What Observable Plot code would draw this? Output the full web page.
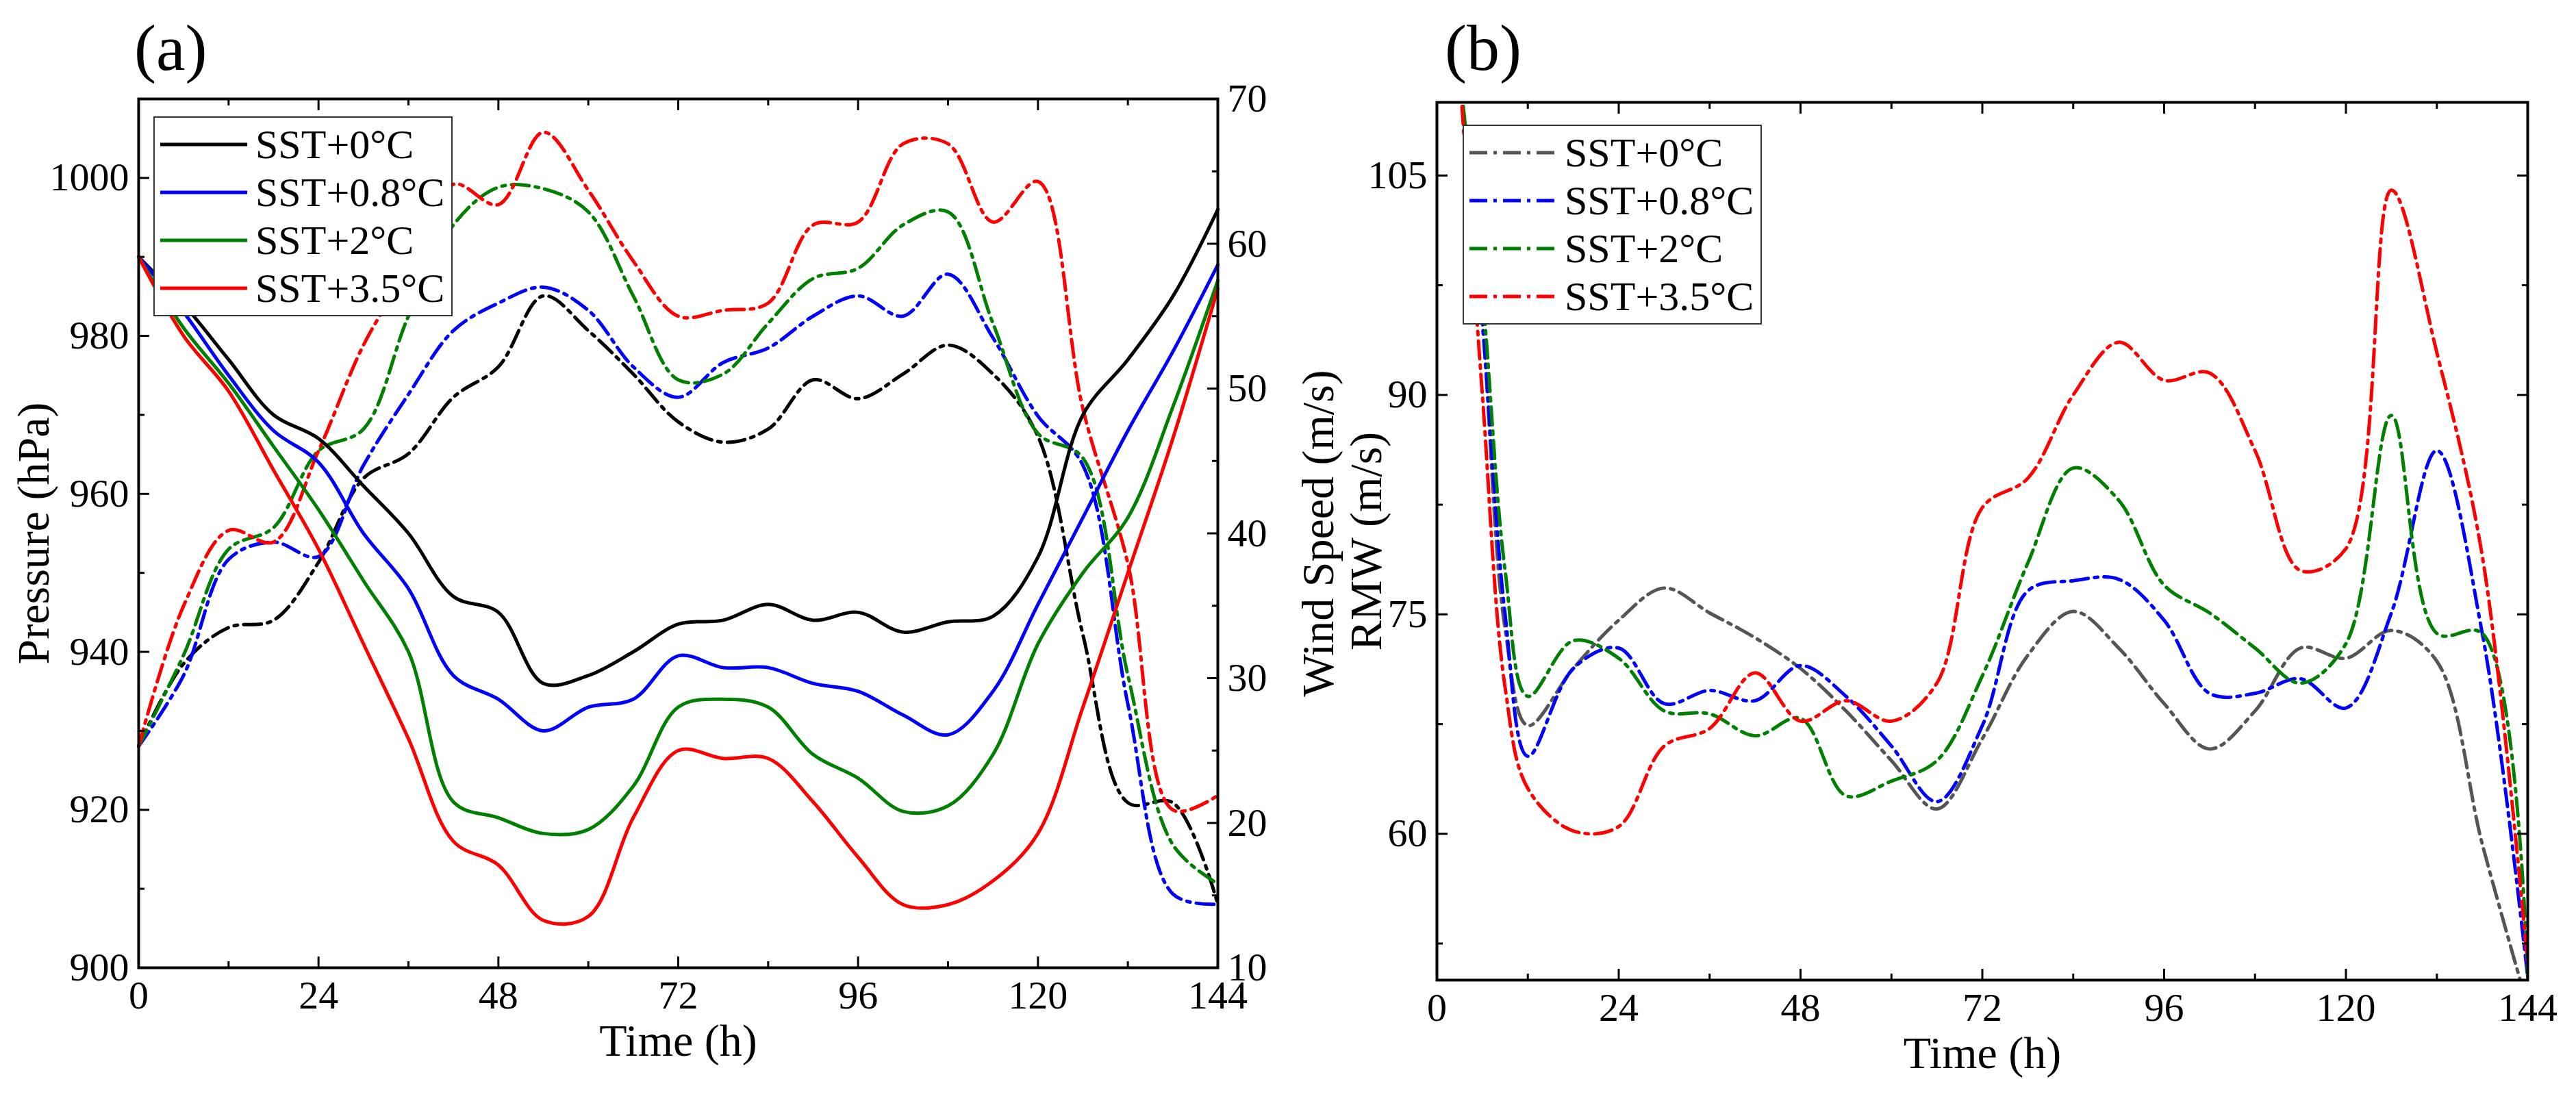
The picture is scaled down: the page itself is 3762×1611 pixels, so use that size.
<!DOCTYPE html>
<html><head><meta charset="utf-8">
<script src="https://cdn.jsdelivr.net/npm/d3@7"></script>
<script src="https://cdn.jsdelivr.net/npm/@observablehq/plot@0.6"></script>
<style>
body{margin:0;background:#fff;width:3762px;height:1611px;position:relative;overflow:hidden;font-family:"Liberation Serif",serif}
.pan{position:absolute;top:0}
.pan svg{background:transparent!important;overflow:visible}
.lab{position:absolute;font-size:96px;font-family:"Liberation Serif",serif}
.leg{position:absolute;border:2px solid #333;background:#fff;font-size:60px;padding:4px 10px 4px 8px}
.leg div{display:flex;align-items:center;height:70px}
.leg svg{margin-right:12px}
</style></head><body>
<div id="a" class="pan" style="left:0"></div>
<div id="b" class="pan" style="left:1960px"></div>
<div class="lab" style="left:196px;top:14px">(a)</div>
<div class="lab" style="left:2110px;top:14px">(b)</div>
<script>
const names = ["SST+0°C","SST+0.8°C","SST+2°C","SST+3.5°C"];
const colorsA = ["#000000","#0000ff","#008000","#ff0000"];
const colorsB = ["#555555","#0000ff","#008000","#ff0000"];
const timeA = d3.range(0,145,6);
const pressure = [
 [990,984,977,970,967,961,955,947,945,936,937,940,943.5,944,946,944,945,942.5,943.8,944.5,952,970,977,985,996],
 [990,983,975,968,964,955,948,937,934,930,933,934,939.5,938,938,936,935,932,929.5,935,946,957,968,978,989],
 [990,981,974,966,958,949,940,921,919,917,917.5,923,933,934,933,927,924,919.8,920.5,927,941,950,957,971,987],
 [990,980,973,963,953,941,929,916,913,906,906.5,919,927.5,926.5,926.5,921,914,908,908,911,917,933,950,967,986]
];
const wind = [
 [25.3,31,33.5,34,38,43.8,45.5,49.4,51.5,56.4,54,51,47.7,46.3,47.2,50.6,49.3,51,53,51,46.7,33,21.4,21.4,14.4],
 [25.3,30.2,38.2,39.4,38.4,44.7,49.6,54,55.9,57,55.4,51.5,49.4,51.8,52.8,55,56.4,55,57.9,53.5,48.1,44.7,28.2,15.1,14.4],
 [25.3,31.6,38.9,40.4,45.7,47.2,55,61.3,63.9,63.8,62.2,56.4,50.6,51,54.5,57.6,58.3,61.3,62.2,54.5,46.9,45.2,30.2,18.5,15.8],
 [25.3,35,40.2,39.4,45.7,53,58.3,64.1,62.7,67.7,63.7,58.8,55,55.4,55.9,61.3,61.5,66.9,66.9,61.5,64.3,48.6,37.9,20.9,21.9]
];
const timeB = [3,6,9,12,18,24,30,36,42,48,54,60,66,72,78,84,90,96,102,108,114,120,126,132,138,144];
const rmw = [
 [112,95,74,67.4,71.3,74.6,76.8,75.1,73.4,71.3,68.4,65,61.7,66.5,72.2,75.2,72.7,68.9,65.8,68.4,72.7,72,73.9,71.8,59.3,48.2],
 [112,95,75,65.3,71.3,72.7,68.9,69.8,69.1,71.5,69.4,66,62.2,67.4,76.6,77.3,77.4,74.6,69.6,69.6,70.6,68.6,75.1,86.2,73.7,50.2],
 [112,97,78,69.4,73.2,72,68.4,68.2,66.7,67.9,62.6,63.6,65,70.8,78.5,85,82.8,77,75.1,72.7,70.3,73,88.6,73.7,73.7,50.2],
 [112,90,70,63.1,60.2,60.5,66,67.2,71,67.7,69.1,67.7,70.3,82.3,84.3,90,93.6,91,91.5,86.2,78,79.5,104,92.9,79,51.1]
];
const xTicks = d3.range(0,145,24);
const pTicks = [900,920,940,960,980,1000];
const wTicks = [10,20,30,40,50,60,70];
const rTicks = [60,75,90,105];

const w2p = w => 900 + (w-10)*110/60;
const dash = "26,9,5,9";
const font = {fontFamily:"Liberation Serif, serif", fontSize:58};
const TF = 58, LF = 66;

function frameAxes(xs, yMajor, yMinor, opts={}) {
  const m = [];
  m.push(Plot.axisX({anchor:"bottom", ticks:xs, tickSize:-16, tickPadding:34, tickFormat:d=>String(d), label:"Time (h)", labelAnchor:"center", labelOffset:128, labelArrow:"none", fontSize:TF, strokeWidth:3}));
  m.push(Plot.axisX({anchor:"bottom", ticks:xs.slice(0,-1).map(d=>d+12), tickSize:-9, tickFormat:()=>"", label:null, strokeWidth:3}));
  m.push(Plot.axisX({anchor:"top", ticks:xs, tickSize:-16, tickFormat:()=>"", label:null, strokeWidth:3}));
  m.push(Plot.axisX({anchor:"top", ticks:xs.slice(0,-1).map(d=>d+12), tickSize:-9, tickFormat:()=>"", label:null, strokeWidth:3}));
  m.push(Plot.axisY({anchor:"left", ticks:yMajor, tickSize:-16, tickPadding:30, tickFormat:d=>String(d), label:opts.label, labelAnchor:"center", labelOffset:opts.labelOffset, labelArrow:"none", fontSize:TF, strokeWidth:3}));
  m.push(Plot.axisY({anchor:"left", ticks:yMinor, tickSize:-9, tickFormat:()=>"", label:null, strokeWidth:3}));
  return m;
}

// Panel a
const rowsA = [], rowsW = [];
names.forEach((n,i)=>timeA.forEach((t,j)=>{rowsA.push({s:n,t,v:pressure[i][j]}); rowsW.push({s:n,t,v:w2p(wind[i][j])});}));
const pMinor = [910,930,950,970,990];
const plotA = Plot.plot({
  width:1960, height:1611, marginLeft:202, marginRight:182, marginTop:144, marginBottom:198,
  style:{...font, background:"transparent"},
  x:{domain:[0,144]}, y:{domain:[900,1010]},
  color:{domain:names, range:colorsA},
  marks:[
    Plot.line(rowsW,{x:"t",y:"v",z:"s",stroke:"s",strokeWidth:5,strokeDasharray:dash,curve:"catmull-rom"}),
    Plot.line(rowsA,{x:"t",y:"v",z:"s",stroke:"s",strokeWidth:5,curve:"catmull-rom"}),
    ...frameAxes(xTicks,pTicks,pMinor,{label:"Pressure (hPa)",labelOffset:178}),
    Plot.axisY({anchor:"right", ticks:wTicks.map(w2p), tickSize:-16, tickPadding:30, tickFormat:p=>String(Math.round(10+(p-900)*60/110)), label:"Wind Speed (m/s)", labelAnchor:"center", labelOffset:168, labelArrow:"none", fontSize:TF, strokeWidth:3}),
    Plot.axisY({anchor:"right", ticks:[15,25,35,45,55,65].map(w2p), tickSize:-9, tickFormat:()=>"", label:null, strokeWidth:3}),
    Plot.frame({strokeWidth:4})
  ]
});
document.getElementById("a").append(plotA);

// Panel b
const rowsB = [];
names.forEach((n,i)=>timeB.forEach((t,j)=>rowsB.push({s:n,t,v:rmw[i][j]})));
const plotB = Plot.plot({
  width:1802, height:1611, marginLeft:138, marginRight:71, marginTop:149, marginBottom:180,
  style:{...font, background:"transparent"},
  x:{domain:[0,144]}, y:{domain:[50,110]},
  color:{domain:names, range:colorsB},
  marks:[
    Plot.line(rowsB,{x:"t",y:"v",z:"s",stroke:"s",strokeWidth:5,strokeDasharray:dash,curve:"catmull-rom",clip:true}),
    ...frameAxes(xTicks,rTicks,[52.5,67.5,82.5,97.5],{label:"RMW (m/s)",labelOffset:128}),
    Plot.axisY({anchor:"right", ticks:rTicks, tickSize:-16, tickFormat:()=>"", label:null, strokeWidth:3}),
    Plot.axisY({anchor:"right", ticks:[52.5,67.5,82.5,97.5], tickSize:-9, tickFormat:()=>"", label:null, strokeWidth:3}),
    Plot.frame({strokeWidth:4})
  ]
});
document.getElementById("b").append(plotB);
plotA.querySelectorAll("text").forEach(t=>{ if(/Time|Pressure|Wind/.test(t.textContent)) t.setAttribute("font-size", LF); });
plotB.querySelectorAll("text").forEach(t=>{ if(/Time|RMW/.test(t.textContent)) t.setAttribute("font-size", LF); });

function legend(left, top, colors, dashed) {
  const d = document.createElement("div");
  d.className = "leg"; d.style.left = left+"px"; d.style.top = top+"px";
  names.forEach((n,i)=>{
    const r = document.createElement("div");
    r.innerHTML = `<svg width="127" height="10"><line x1="0" x2="127" y1="5" y2="5" stroke="${colors[i]}" stroke-width="5" ${dashed?`stroke-dasharray="${dash}"`:""}/></svg><span>${n}</span>`;
    d.append(r);
  });
  document.body.append(d);
}
legend(224, 170, colorsA, false);
legend(2136, 182, colorsB, true);
</script></body></html>
